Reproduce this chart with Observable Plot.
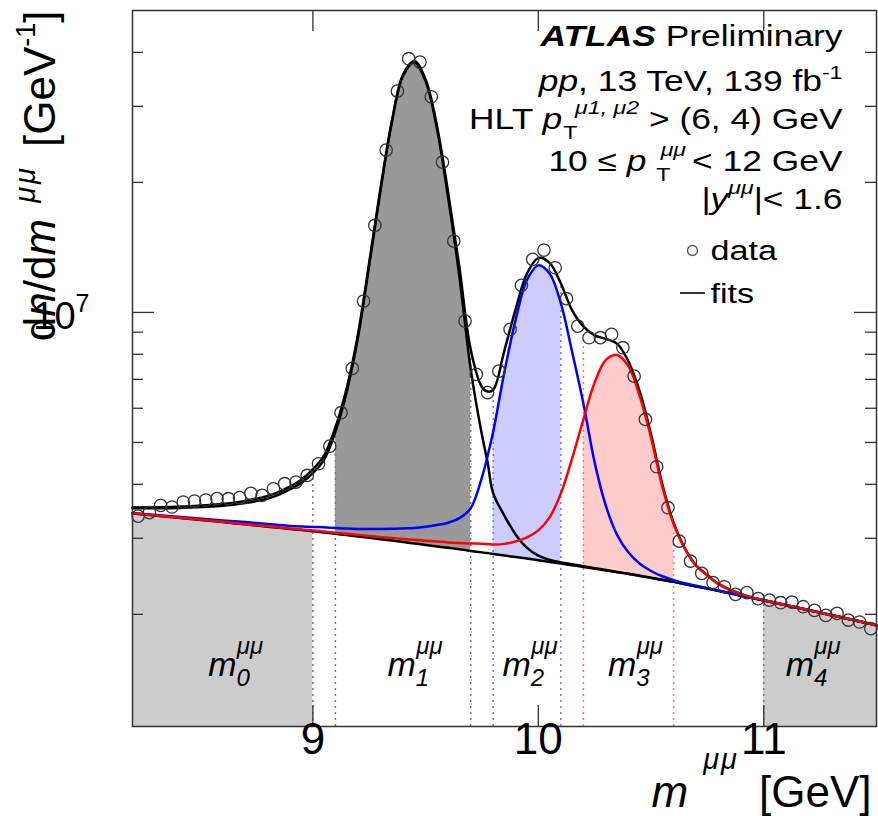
<!DOCTYPE html>
<html><head><meta charset="utf-8">
<script src="https://cdn.jsdelivr.net/npm/d3@7"></script>
<script src="https://cdn.jsdelivr.net/npm/@observablehq/plot@0.6"></script>
<style>
body{margin:0;background:#fff}
svg{font-family:"Liberation Sans",Arial,Helvetica,sans-serif}
</style>
</head><body><div id="chart"></div>
<script>
// ---- data (dn/dm values in units of 1e6 per GeV) ----
const dataMass = [8.225,8.275,8.325,8.375,8.425,8.475,8.525,8.575,8.625,8.675,8.725,8.775,8.825,8.875,8.925,8.975,9.025,9.075,9.125,9.175,9.225,9.275,9.325,9.375,9.425,9.475,9.525,9.575,9.625,9.675,9.725,9.775,9.825,9.875,9.925,9.975,10.025,10.075,10.125,10.175,10.225,10.275,10.325,10.375,10.425,10.475,10.525,10.575,10.625,10.675,10.725,10.775,10.825,10.875,10.925,10.975,11.025,11.075,11.125,11.175,11.225,11.275,11.325,11.375,11.425,11.475];
const dataCounts = [3.377,3.439,3.576,3.544,3.640,3.659,3.679,3.706,3.705,3.726,3.811,3.771,3.907,4.013,4.047,4.194,4.464,4.903,5.859,7.420,10.62,15.90,23.76,32.53,38.67,37.97,31.57,22.28,14.62,9.548,7.186,6.520,7.313,9.134,11.55,13.27,13.94,12.69,10.76,9.296,8.738,8.740,8.894,8.285,7.120,5.653,4.393,3.531,2.956,2.657,2.488,2.368,2.317,2.225,2.245,2.175,2.158,2.128,2.135,2.083,2.043,1.989,2.010,1.940,1.920,1.853];

const curveMass = [8.2,8.4,8.6,8.7,8.8,8.85,8.9,8.95,9.0,9.05,9.1,9.15,9.2,9.25,9.3,9.35,9.4,9.45,9.5,9.55,9.6,9.65,9.7,9.75,9.775,9.8,9.85,9.9,9.95,10.0,10.05,10.1,10.15,10.2,10.25,10.3,10.35,10.4,10.45,10.5,10.55,10.6,10.65,10.7,10.75,10.8,10.9,11.0,11.1,11.2,11.3,11.4,11.5];
const bkgFit = [3.425,3.348,3.270,3.231,3.192,3.172,3.153,3.134,3.115,3.093,3.072,3.051,3.030,3.007,2.985,2.963,2.941,2.918,2.896,2.873,2.851,2.829,2.805,2.783,2.772,2.760,2.736,2.714,2.692,2.669,2.645,2.621,2.598,2.575,2.551,2.528,2.504,2.481,2.455,2.429,2.403,2.378,2.349,2.321,2.294,2.266,2.209,2.154,2.099,2.045,1.991,1.939,1.886];
const ups1Fit = [3.522,3.527,3.569,3.619,3.709,3.788,3.897,4.036,4.244,4.563,5.300,6.54,8.745,12.87,19.16,27.45,35.28,37.9,34.27,26.7,18.45,12.1,7.40,5.20,4.50,3.811,3.382,3.058,2.850,2.734,2.674,2.638,2.612,2.585,2.558,2.533,2.507,2.483,2.457,2.430,2.404,2.379,2.350,2.322,2.295,2.267,2.209,2.154,2.099,2.045,1.991,1.939,1.886];
const ups2Fit = [3.435,3.366,3.300,3.270,3.239,3.220,3.205,3.195,3.188,3.180,3.170,3.160,3.154,3.152,3.152,3.155,3.162,3.170,3.190,3.220,3.260,3.340,3.520,4.150,4.650,5.300,7.30,9.65,11.9,12.85,12.3,10.5,8.10,6.15,4.49,3.56,3.05,2.78,2.62,2.52,2.45,2.40,2.36,2.33,2.30,2.272,2.212,2.155,2.099,2.045,1.991,1.939,1.886];
const ups3Fit = [3.430,3.353,3.275,3.235,3.197,3.178,3.160,3.143,3.129,3.110,3.090,3.072,3.055,3.038,3.021,3.005,2.990,2.975,2.961,2.948,2.935,2.926,2.919,2.912,2.908,2.904,2.912,2.951,3.015,3.129,3.354,3.811,4.592,5.653,6.887,7.762,7.973,7.499,6.391,5.13,3.95,3.24,2.834,2.589,2.461,2.346,2.225,2.157,2.100,2.046,1.992,1.940,1.887];
const totalFit = [3.537,3.550,3.604,3.662,3.761,3.842,3.956,4.106,4.331,4.667,5.418,6.672,8.894,13.05,19.36,27.68,35.55,38.21,34.62,27.10,18.96,12.72,8.211,6.72,6.56,6.62,8.181,10.19,12.31,13.36,13.02,11.67,10.11,9.281,8.847,8.683,8.455,7.700,6.556,5.22,4.00,3.26,2.845,2.598,2.467,2.352,2.228,2.158,2.101,2.047,1.993,1.941,1.888];

const regionNames = ["0","1","2","3","4"];
const regionLo = [8.2, 9.1, 9.8, 10.2, 11.0];
const regionHi = [9.0, 9.7, 10.1, 10.6, 11.5];
const boundaryMass = [9.0, 9.1, 9.7, 9.8, 10.1, 10.2, 10.6, 11.0];
const boundaryGroup = ["grey","grey","grey","blue","blue","red","red","grey"];

const xTicks = [9, 10, 11];
const yMajorTicks = [1e7];
const yMinorTicks = [2e6,3e6,4e6,5e6,6e6,7e6,8e6,9e6,2e7,3e7,4e7];
const xDomain = [8.2, 11.5];
const yDomain = [1.1e6, 5e7];

// ---- tables ----
const M = 1e6;
const points = dataMass.map((m, i) => ({m, n: dataCounts[i] * M}));
const curves = curveMass.map((m, i) => ({
  m, bkg: bkgFit[i] * M, u1: ups1Fit[i] * M, u2: ups2Fit[i] * M, u3: ups3Fit[i] * M, tot: totalFit[i] * M
}));
const inRange = (lo, hi) => curves.filter(r => r.m >= lo - 1e-9 && r.m <= hi + 1e-9);
const bounds = boundaryMass.map((m, i) => ({m, g: boundaryGroup[i], top: curves.find(r => Math.abs(r.m - m) < 1e-9).tot}));

const W = 878, H = 816, mL = 132, mR = 2, mT = 10, mB = 90;
const iW = W - mL - mR, iH = H - mT - mB;

const fillOf = ["#cccccc", "#999999", "#ccccff", "#ffcccc", "#cccccc"];
const dotColor = {grey: "#777777", blue: "#7070ff", red: "#ff7070"};
const labelDx = [13, 12, 3, 7, -7];

// rich text specs
const rich = {
  "ATLAS Preliminary": [{t:"ATLAS", b:1, i:1}, {t:" Preliminary"}],
  "pp, 13 TeV, 139 fb-1": [{t:"pp", i:1}, {t:", 13 TeV, 139 fb"}, {t:"-1", fs:19, sh:-12}],
  "HLT pT μ1, μ2 > (6, 4) GeV": [{t:"HLT "}, {t:"p", i:1}, {t:"T", fs:19, sh:10, dx:1}, {t:"μ1, μ2", i:1, fs:19, sh:-15, dx:-2}, {t:" > (6, 4) GeV", sh:0}],
  "10 ≤ pT μμ < 12 GeV": [{t:"10 ≤ "}, {t:"p", i:1}, {t:"T", fs:19, sh:10, dx:8}, {t:"μμ", i:1, fs:19, sh:-15, dx:-8}, {t:"< 12 GeV", sh:0, dx:5}],
  "|yμμ|< 1.6": [{t:"|"}, {t:"y", i:1}, {t:"μμ", i:1, fs:19, sh:-15}, {t:"|< 1.6", sh:0}],
  "mμμ [GeV]": [{t:"m", i:1}, {t:"μμ", i:1, fs:29, sh:-38, dx:15, ls:2}, {t:"[GeV]", sh:0, dx:20}],
  "dn/dmμμ [GeV-1]": [{t:"d"}, {t:"n", i:1}, {t:"/d"}, {t:"m", i:1}, {t:"μμ", i:1, fs:29, sh:-20, dx:16, ls:3}, {t:"[GeV", sh:0, dx:18}, {t:"-1", fs:27, sh:-20}, {t:"]", sh:0}],
  "10^7": [{t:"10"}, {t:"7", fs:25, sh:-17}]
};
const stretchX = {
  "ATLAS Preliminary": 1.22, "pp, 13 TeV, 139 fb-1": 1.22, "HLT pT μ1, μ2 > (6, 4) GeV": 1.22,
  "10 ≤ pT μμ < 12 GeV": 1.22, "|yμμ|< 1.6": 1.22, "data": 1.22, "fits": 1.22
};
regionNames.forEach(k => {
  rich["m" + k + "μμ"] = [{t:"m", i:1}, {t:k, i:1, fs:24, sh:10}, {t:"μμ", i:1, fs:24, sh:-22, dx:-13}];
});

const marks = [];
// sideband and signal-region fills
regionNames.forEach((k, i) => {
  const rows = inRange(regionLo[i], regionHi[i]);
  if (i === 0 || i === 4) {
    marks.push(Plot.areaY(rows, {x: "m", y1: () => yDomain[0], y2: "bkg", fill: fillOf[i], curve: "catmull-rom"}));
  } else {
    const key = ["", "u1", "u2", "u3"][i];
    marks.push(Plot.areaY(rows, {x: "m", y1: "bkg", y2: key, fill: fillOf[i], curve: "catmull-rom"}));
  }
});
// dotted boundaries
for (const g of ["grey", "blue", "red"]) {
  marks.push(Plot.ruleX(bounds.filter(d => d.g === g), {x: "m", y1: () => yDomain[0], y2: "top", stroke: dotColor[g], strokeWidth: 1.5, strokeDasharray: "2,4"}));
}
// fit curves
marks.push(Plot.line(curves, {x: "m", y: "bkg", stroke: "#000", strokeWidth: 2.5, curve: "catmull-rom"}));
marks.push(Plot.line(curves, {x: "m", y: "u1", stroke: "#000", strokeWidth: 2.5, curve: "catmull-rom"}));
marks.push(Plot.line(curves, {x: "m", y: "tot", stroke: "#000", strokeWidth: 2.5, curve: "catmull-rom"}));
marks.push(Plot.line(curves, {x: "m", y: "u2", stroke: "#0000ff", strokeWidth: 2.5, curve: "catmull-rom"}));
marks.push(Plot.line(curves, {x: "m", y: "u3", stroke: "#ff0000", strokeWidth: 2.5, curve: "catmull-rom"}));
// data
marks.push(Plot.dot(points, {x: "m", y: "n", r: 6.2, stroke: "#333", strokeWidth: 1.3, fill: "none"}));
// frame and ticks
marks.push(Plot.frame({stroke: "#333", strokeWidth: 1.5}));
marks.push(Plot.tickX(xTicks, {x: d => d, insetTop: iH - 21, stroke: "#333", strokeWidth: 1.3}));
marks.push(Plot.tickX(xTicks, {x: d => d, insetBottom: iH - 21, stroke: "#333", strokeWidth: 1.3}));
marks.push(Plot.tickY(yMinorTicks, {y: d => d, insetRight: iW - 11, stroke: "#333", strokeWidth: 1.3}));
marks.push(Plot.tickY(yMinorTicks, {y: d => d, insetLeft: iW - 11, stroke: "#333", strokeWidth: 1.3}));
marks.push(Plot.tickY(yMajorTicks, {y: d => d, insetRight: iW - 22, stroke: "#333", strokeWidth: 1.3}));
marks.push(Plot.tickY(yMajorTicks, {y: d => d, insetLeft: iW - 22, stroke: "#333", strokeWidth: 1.3}));
// tick labels
marks.push(Plot.text(xTicks, {x: d => d, frameAnchor: "bottom", dy: 27, text: d => String(d), fontSize: 44, fill: "#000"}));
marks.push(Plot.text(yMajorTicks, {y: d => d, frameAnchor: "left", dx: -43, dy: 17, text: () => "10^7", textAnchor: "end", lineAnchor: "bottom", fontSize: 38, fill: "#000"}));
// axis titles
marks.push(Plot.text(["mμμ [GeV]"], {frameAnchor: "bottom-right", dy: 80, dx: -5, text: d => d, textAnchor: "end", lineAnchor: "bottom", fontSize: 44, fill: "#000"}));
marks.push(Plot.text(["dn/dmμμ [GeV-1]"], {frameAnchor: "top-left", dx: -78, dy: 0, text: d => d, rotate: -90, textAnchor: "end", lineAnchor: "bottom", fontSize: 44, fill: "#000"}));
// annotations
const annot = ["ATLAS Preliminary", "pp, 13 TeV, 139 fb-1", "HLT pT μ1, μ2 > (6, 4) GeV", "10 ≤ pT μμ < 12 GeV", "|yμμ|< 1.6"];
const annotDy = [35, 80, 118, 160, 198];
annot.forEach((s, i) => marks.push(Plot.text([s], {frameAnchor: "top-right", dx: -34, dy: annotDy[i], text: d => d, textAnchor: "end", lineAnchor: "bottom", fontSize: 29, fill: "#000"})));
// legend
marks.push(Plot.dot([0], {frameAnchor: "top-left", dx: 560, dy: 240, r: 5, stroke: "#555", strokeWidth: 1.3, fill: "none"}));
marks.push(Plot.text(["data"], {frameAnchor: "top-left", dx: 578, dy: 249, text: d => d, textAnchor: "start", lineAnchor: "bottom", fontSize: 28, fill: "#000"}));
marks.push(Plot.text(["fits"], {frameAnchor: "top-left", dx: 578, dy: 292, text: d => d, textAnchor: "start", lineAnchor: "bottom", fontSize: 28, fill: "#000"}));
// region labels
regionNames.forEach((k, i) => {
  marks.push(Plot.text([k], {x: d => (regionLo[i] + regionHi[i]) / 2, frameAnchor: "bottom", dy: -51, dx: labelDx[i], text: d => "m" + d + "μμ", textAnchor: "middle", lineAnchor: "bottom", fontSize: 34, fill: "#000"}));
});

const svg = Plot.plot({
  width: W, height: H,
  marginLeft: mL, marginRight: mR, marginTop: mT, marginBottom: mB,
  x: {domain: xDomain, axis: null},
  y: {type: "log", domain: yDomain, axis: null},
  style: {background: "#fff", fontFamily: "'Liberation Sans', Arial, sans-serif", overflow: "visible"},
  marks
});

function setRich(el, segs) {
  const t = d3.select(el);
  t.text(null);
  let shift = 0;
  for (const s of segs) {
    const ts = t.append("tspan").text(s.t);
    const sh = s.sh || 0;
    if (sh !== shift) ts.attr("dy", sh - shift);
    if (s.dx) ts.attr("dx", s.dx);
    shift = sh;
    if (s.fs) ts.attr("font-size", s.fs);
    if (s.i) ts.attr("font-style", "italic");
    if (s.b) ts.attr("font-weight", "bold");
    if (s.ls) ts.attr("letter-spacing", s.ls);
  }
}
d3.select(svg).selectAll("text").each(function () {
  const k = this.textContent;
  if (rich[k]) setRich(this, rich[k]);
  if (stretchX[k]) {
    const tr = this.getAttribute("transform") || "";
    const x = parseFloat(this.getAttribute("x")) || 0;
    const y = parseFloat(this.getAttribute("y")) || 0;
    this.setAttribute("transform", `${tr} translate(${x},${y}) scale(${stretchX[k]},1) translate(${-x},${-y})`);
  }
});
// legend line sample for "fits"
d3.select(svg).append("line").attr("x1", 680).attr("x2", 705).attr("y1", 293).attr("y2", 293).attr("stroke", "#000").attr("stroke-width", 1.6);

document.getElementById("chart").appendChild(svg);
</script>
</body></html>
